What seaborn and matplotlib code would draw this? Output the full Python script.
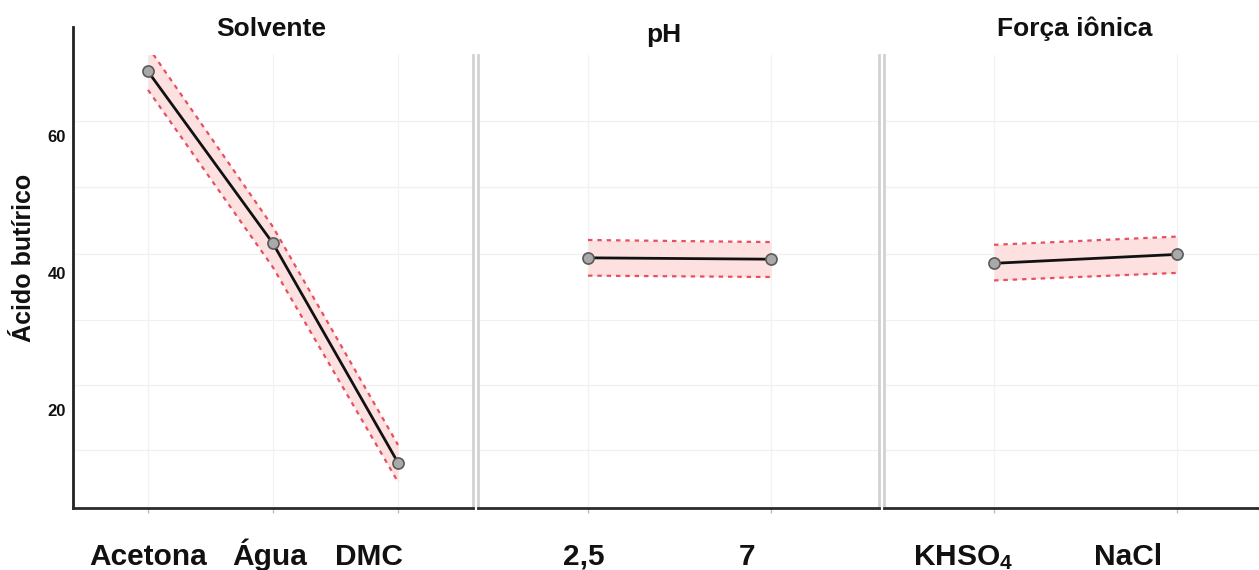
import matplotlib
matplotlib.use("Agg")
import matplotlib.pyplot as plt
import matplotlib.transforms as mtransforms
import seaborn as sns

# Médias ajustadas de ácido butírico por fator, com limites do intervalo de confiança
solvente = ["Acetona", "Água", "DMC"]
solvente_media = [69.4, 44.3, 12.3]
solvente_inf = [66.7, 40.8, 9.5]
solvente_sup = [73.0, 46.7, 14.9]

ph = ["2,5", "7"]
ph_media = [42.2, 42.0]
ph_inf = [39.6, 39.4]
ph_sup = [44.8, 44.5]

forca = ["KHSO$_4$", "NaCl"]
forca_media = [41.4, 42.7]
forca_inf = [38.9, 40.0]
forca_sup = [44.1, 45.3]

titulos = ["Solvente", "pH", "Força iônica"]
y_ticks = [20, 40, 60]

sns.set_theme(style="white")
plt.rcParams["font.family"] = ["Liberation Sans", "DejaVu Sans"]
plt.rcParams["mathtext.fontset"] = "custom"
plt.rcParams["mathtext.rm"] = "Liberation Sans:bold"
plt.rcParams["mathtext.it"] = "Liberation Sans:bold"
plt.rcParams["mathtext.bf"] = "Liberation Sans:bold"

W, H = 1259, 570
fig = plt.figure(figsize=(W / 100, H / 100), dpi=100)

# painel: (esquerda px, direita px)
paineis = [(73, 473), (478, 879), (884, 1266)]
xlims = [(-0.6, 2.6), (-0.601, 1.59), (-0.601, 1.485)]
y_bot, y_top = 5.69, 71.8
grid_y = [14.2, 23.7, 33.1, 42.8, 52.5, 62.2]
title_pos = [(0.495, 1.0419), (0.464, 1.0287), (0.5, 1.0419)]
# deslocamento horizontal (px) dos rótulos do eixo x
label_dx = [[0, -3, -29], [-4.5, -24], [-31, -49]]
label_dy = -21.5

dados = [
    (solvente, solvente_media, solvente_inf, solvente_sup),
    (ph, ph_media, ph_inf, ph_sup),
    (forca, forca_media, forca_inf, forca_sup),
]

banda = "#fde0e0"
tracejado = "#e8505f"
cinza = "#d2d2d2"

axes = []
for i, ((l, r), (cats, media, inf, sup)) in enumerate(zip(paineis, dados)):
    ax = fig.add_axes([l / W, 1 - 508 / H, (r - l) / W, 453 / H],
                      sharey=axes[0] if axes else None)
    axes.append(ax)

    ax.fill_between(cats, inf, sup, color=banda, lw=0, zorder=1)
    sns.lineplot(x=cats, y=inf, ax=ax, color=tracejado, lw=1.6,
                 linestyle=(0, (2.0, 2.2)), sort=False, zorder=2)
    sns.lineplot(x=cats, y=sup, ax=ax, color=tracejado, lw=1.6,
                 linestyle=(0, (2.0, 2.2)), sort=False, zorder=2)
    sns.lineplot(x=cats, y=media, ax=ax, color="#111111", lw=2.0, sort=False,
                 marker="o", markersize=8, markerfacecolor="#a9a9a9",
                 markeredgecolor="#5a5a5a", markeredgewidth=1.2, zorder=3)

    ax.set_xlim(*xlims[i])
    ax.set_ylim(y_bot, y_top)
    ax.set_xticks(range(len(cats)), cats)
    ax.set_yticks(y_ticks)
    ax.set_yticks(grid_y, minor=True)
    ax.set_xlabel("")
    ax.set_ylabel("")

    ax.grid(False)
    ax.grid(True, which="minor", axis="y", color="#f0f0f0", lw=0.9)
    ax.grid(True, which="major", axis="x", color="#f2f2f2", lw=0.9)
    ax.set_axisbelow(True)

    ax.tick_params(axis="x", which="major", bottom=True, length=3.5, width=1,
                   color="#bdbdbd", pad=22, labelsize=21.5, labelcolor="#111111")
    ax.tick_params(axis="y", which="both", left=False, length=0)
    for t in ax.get_xticklabels():
        t.set_fontweight("bold")

    ax.spines["top"].set_visible(False)
    ax.spines["bottom"].set_color("#2b2b2b")
    ax.spines["bottom"].set_linewidth(2)
    for s in ("left", "right"):
        ax.spines[s].set_color(cinza)
        ax.spines[s].set_linewidth(2)

    x0, y0 = title_pos[i]
    ax.set_title(titulos[i], x=x0, y=y0, pad=0, fontsize=19,
                 fontweight="bold", color="#111111")

    if i == 0:
        ax.spines["left"].set_color("#222222")
        ax.spines["left"].set_bounds(y_bot, 75.9)
        ax.tick_params(axis="y", labelleft=True, labelsize=12, pad=5,
                       labelcolor="#111111")
        for t in ax.get_yticklabels():
            t.set_fontweight("bold")
        ax.set_ylabel("Ácido butírico", fontsize=18, fontweight="bold",
                      color="#111111")
        ax.yaxis.set_label_coords(-0.093, 0.552)
    else:
        ax.tick_params(axis="y", labelleft=False)
    if i == 2:
        ax.spines["right"].set_visible(False)

fig.canvas.draw()
for ax, dxs in zip(axes, label_dx):
    for t, dx in zip(ax.get_xticklabels(), dxs):
        t.set_verticalalignment("baseline")
        t.set_transform(t.get_transform() +
                        mtransforms.ScaledTranslation(dx / 100, label_dy / 100,
                                                      fig.dpi_scale_trans))

fig.savefig("out.png", dpi=100)
